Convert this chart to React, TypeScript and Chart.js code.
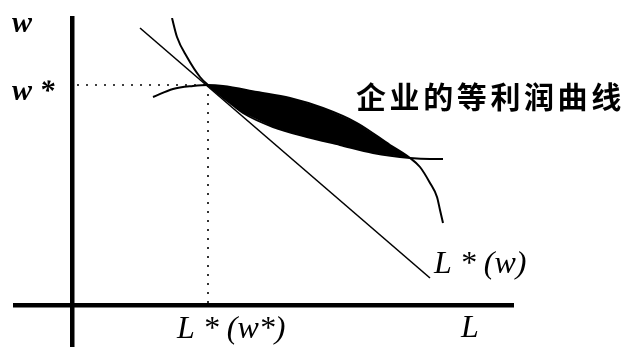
import React, { useEffect, useRef } from 'react';
import { Chart, registerables } from 'chart.js';

Chart.register(...registerables);

// Data units: origin at the crossing of the L (horizontal) and w (vertical) axes
const axisL = [-5.7, 44.1];
const axisW = [-4.2, 28.7];

// Equilibrium wage and employment
const wStar = 22.0;
const lStar = 13.6;

// Labour demand line L*(w)
const demandL = [6.8, 35.8];
const demandW = [27.7, 2.7];

// Hump-shaped iso-profit curve
const humpL = [8.1, 10.1, 12.1, 13.6, 15.1, 18.5, 21.8, 25.1, 28.5, 31.8, 33.8, 34.8, 35.8, 36.5, 36.8, 37.1];
const humpW = [20.8, 21.6, 21.9, 22.0, 21.9, 21.3, 20.7, 19.7, 18.2, 16.0, 14.7, 13.8, 12.2, 10.8, 9.5, 8.2];

// Convex curve
const convexL = [10.0, 10.5, 11.5, 12.8, 13.6, 15.8, 17.1, 20.1, 23.5, 26.8, 30.1, 33.8, 35.8, 37.1];
const convexW = [28.7, 26.8, 24.8, 22.8, 22.0, 20.2, 19.2, 17.8, 16.8, 16.0, 15.2, 14.7, 14.6, 14.6];

// Right-hand intersection of the two curves
const crossL = 33.8;

// Text labels
const labelText = ['w', 'w *', 'L * (w*)', 'L * (w)', 'L', '企业的等利润曲线'];
const labelL = [-6.0, -6.0, 10.5, 36.2, 38.9, 28.4];
const labelW = [27.3, 20.5, -3.3, 3.2, -3.2, 20.8];

const toPts = (xs: number[], ys: number[]) => xs.map((x, i) => ({ x, y: ys[i] }));

export default function App() {
  const ref = useRef<HTMLCanvasElement | null>(null);

  useEffect(() => {
    if (!ref.current) return;

    const hump = toPts(humpL, humpW);
    const convex = toPts(convexL, convexW);
    const lensTop = hump.filter((p) => p.x >= lStar && p.x <= crossL);
    const lensBottom = convex.filter((p) => p.x > lStar && p.x < crossL).reverse();
    const lens = [...lensTop, ...lensBottom];

    const labelFonts = [
      'italic bold 30px "Liberation Serif"',
      'italic bold 30px "Liberation Serif"',
      'italic 32px "Liberation Serif"',
      'italic 32px "Liberation Serif"',
      'italic 32px "Liberation Serif"',
      'bold 30px "Noto Sans CJK SC"',
    ];

    const labelPlugin = {
      id: 'labels',
      afterDatasetsDraw(chart: any) {
        const { ctx, scales } = chart;
        ctx.save();
        ctx.fillStyle = '#000';
        labelText.forEach((t, i) => {
          const px = scales.x.getPixelForValue(labelL[i]);
          const py = scales.y.getPixelForValue(labelW[i]);
          ctx.font = labelFonts[i];
          ctx.textAlign = 'left';
          if (i === 5) {
            ctx.textBaseline = 'middle';
            Array.from(t).forEach((ch, k) => ctx.fillText(ch, px + k * 33.6, py));
          } else {
            ctx.textBaseline = 'alphabetic';
            ctx.fillText(t, px, py);
          }
        });
        ctx.restore();
      },
    };

    const line = (data: any[], extra: any = {}) => ({
      data,
      showLine: true,
      pointRadius: 0,
      borderColor: '#000',
      backgroundColor: '#000',
      fill: false,
      ...extra,
    });

    const chart = new Chart(ref.current, {
      type: 'scatter',
      data: {
        datasets: [
          line(hump, { borderWidth: 2, cubicInterpolationMode: 'monotone' }),
          line(convex, { borderWidth: 2, cubicInterpolationMode: 'monotone' }),
          line(toPts(demandL, demandW), { borderWidth: 1.6 }),
          line([{ x: 0.5, y: wStar }, { x: lStar, y: wStar }], { borderWidth: 1.6, borderDash: [2, 7] }),
          line([{ x: lStar, y: wStar }, { x: lStar, y: 0 }], { borderWidth: 1.6, borderDash: [2, 7] }),
          line(lens, { borderWidth: 0, fill: 'shape', tension: 0 }),
        ],
      },
      options: {
        responsive: false,
        animation: false,
        layout: { padding: { left: 15, right: 118, top: 18, bottom: 0 } },
        plugins: { legend: { display: false }, tooltip: { enabled: false } },
        scales: {
          x: {
            type: 'linear',
            min: axisL[0],
            max: axisL[1],
            position: { y: 0 },
            grid: { display: false, drawTicks: false },
            ticks: { display: false },
            border: { display: true, color: '#000', width: 4.5 },
          },
          y: {
            type: 'linear',
            min: axisW[0],
            max: axisW[1],
            position: { x: 0 },
            grid: { display: false, drawTicks: false },
            ticks: { display: false },
            border: { display: true, color: '#000', width: 4.5 },
          },
        },
      },
      plugins: [labelPlugin],
    } as any);

    return () => chart.destroy();
  }, []);

  return (
    <div style={{ position: 'fixed', left: 0, top: 0, width: 631, height: 347, background: '#fff' }}>
      <canvas ref={ref} width={631} height={347} style={{ display: 'block' }} />
    </div>
  );
}
